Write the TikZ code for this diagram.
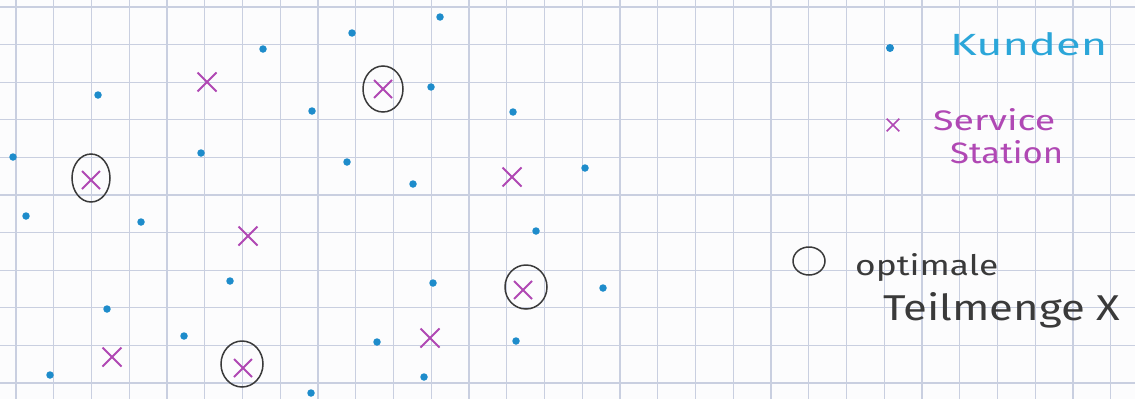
\documentclass[tikz,border=0pt]{standalone}
\usepackage{fontspec}
\usetikzlibrary{shapes.misc,shapes.geometric}
\newfontfamily\hand{Fira Sans}
\definecolor{gridc}{HTML}{C9CFE0}
\definecolor{dotc}{HTML}{1E8CCB}
\definecolor{kundc}{HTML}{2BA6D9}
\definecolor{magc}{HTML}{B048B4}
\definecolor{ringc}{HTML}{3A3A3A}
\definecolor{paper}{HTML}{FCFCFD}
\tikzset{
  gridline/.style={draw=gridc, line width=1.1pt},
  dot/.style={circle, fill=dotc, inner sep=0pt, minimum size=7.5pt},
  station/.style={cross out, draw=magc, line width=2pt, inner sep=0pt, minimum size=17pt},
  ring/.style={ellipse, draw=ringc, line width=1.5pt, inner sep=0pt},
  label/.style={anchor=base west, inner sep=0pt},
}
\begin{document}
\begin{tikzpicture}[x=1pt,y=-1pt]
\fill[paper] (0,0) rectangle (1135,399);
\useasboundingbox (0,0) rectangle (1135,399);
% grid
\foreach \k in {0,...,29} \draw[gridline] ({16+37.75*\k},0) -- ({16+37.75*\k},399);
\foreach \k in {0,...,10} \draw[gridline] (0,{7+37.6*\k}) -- (1135,{7+37.6*\k});
% customers
\foreach \x/\y [count=\i] in {263/49,352/33,440/17,98/95,312/111,431/87,513/112,13/157,201/153,347/162,413/184,585/168,26/216,141/222,536/231,230/281,433/283,603/288,107/309,184/336,377/342,516/341,50/375,311/393,424/377}
  \node[dot] (d\i) at (\x,\y) {};
% service stations
\foreach \x/\y [count=\i] in {207/82,512/177,248/236,112/357,430/338}
  \node[station] (s\i) at (\x,\y) {};
% optimal stations
\foreach \x/\y [count=\i] in {91/180,383/89,243/368,523/290}
  \node[station, minimum size=16pt] (o\i) at (\x,\y) {};
\node[ring, minimum width=38pt, minimum height=48pt] (r1) at (91,178) {};
\node[ring, minimum width=40pt, minimum height=46pt] (r2) at (383,89) {};
\node[ring, minimum width=42pt, minimum height=46pt] (r3) at (242,364) {};
\node[ring, minimum width=42pt, minimum height=44pt] (r4) at (526,287) {};
% legend
\node[dot, minimum size=8pt] (ld) at (890,48) {};
\node[label, text=kundc] (lk) at (950,55) {\resizebox{157pt}{23pt}{\hand Kunden}};
\node[station, minimum size=11pt, line width=1.6pt] (lx) at (893,125) {};
\node[label, text=magc] (ls1) at (933,130) {\resizebox{122pt}{22pt}{\hand Service}};
\node[label, text=magc] (ls2) at (950,163) {\resizebox{113pt}{23pt}{\hand Station}};
\node[ring, minimum width=32pt, minimum height=28pt] (lr) at (809,261) {};
\node[label, text=ringc] (lo1) at (855,275) {\resizebox{143pt}{22pt}{\hand optimale}};
\node[label, text=ringc] (lo2) at (883,320) {\resizebox{237pt}{28pt}{\hand Teilmenge X}};
\end{tikzpicture}
\end{document}
